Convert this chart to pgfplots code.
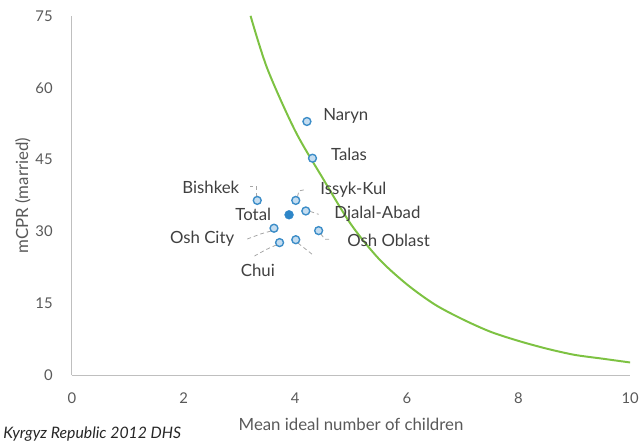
\documentclass[border=0pt]{standalone}
\usepackage{pgfplots}
\pgfplotsset{compat=1.18}
\usepackage{fontspec}
\setmainfont{Lato}

\definecolor{tickgray}{HTML}{595959}
\definecolor{labgray}{HTML}{404040}
\definecolor{axgray}{HTML}{BFBFBF}
\definecolor{curvegreen}{HTML}{7DC242}
\definecolor{ptedge}{HTML}{3C8DC8}
\definecolor{ptfill}{HTML}{C5DDF0}
\definecolor{totalblue}{HTML}{2E86C8}

\begin{document}
\begin{tikzpicture}
\begin{axis}[
    scale only axis,
    width=565pt, height=364pt,
    xmin=0, xmax=10, ymin=0, ymax=75,
    xtick={0,2,...,10}, ytick={0,15,...,75},
    axis lines=left,
    axis line style={axgray, line width=1pt, -},
    major tick length=0pt,
    tick label style={tickgray, font=\fontsize{15}{17}\selectfont},
    /pgf/number format/assume math mode=true,
    xticklabel style={yshift=-14pt},
    yticklabel style={xshift=-16pt},
    xlabel={Mean ideal number of children},
    ylabel={mCPR (married)},
    label style={tickgray, font=\fontsize{17}{19}\selectfont},
    xlabel style={yshift=-8pt},
    ylabel style={yshift=-2pt},
    clip=true,
]
% ideal-number curve
\addplot[curvegreen, line width=2pt, smooth] coordinates {
    (3.2,75) (3.5,64) (4.0,51) (4.5,41) (5.0,31.5) (5.5,24.3) (6.0,19.0)
    (6.5,14.8) (7.0,11.7) (7.5,9.1) (8.0,7.2) (8.5,5.6) (9.0,4.3) (9.5,3.5) (10.0,2.7)
};
% leader lines
\begin{scope}[gray!70, dashed, line width=0.8pt, dash pattern=on 4pt off 3pt]
\draw (3.31,37.3) -- (3.31,39.4) -- (3.19,39.4);
\draw (4.04,37.3) -- (4.07,38.5) -- (4.16,38.7);
\draw (4.27,34.2) -- (4.42,33.6);
\draw (3.56,30.1) -- (3.38,29.5) -- (3.13,28.4);
\draw (4.46,29.5) -- (4.53,28.4) -- (4.65,28.4);
\draw (3.66,27.2) -- (3.47,26.2) -- (3.27,24.9);
\draw (4.05,27.6) -- (4.30,25.3);
\end{scope}
% regions
\addplot[only marks, mark=*, mark size=4pt,
    mark options={draw=ptedge, fill=ptfill, line width=1.4pt}] coordinates {
    (4.21,52.96) (4.31,45.3) (3.32,36.5) (4.01,36.5) (4.19,34.3)
    (3.62,30.7) (4.42,30.2) (4.01,28.3) (3.72,27.7)
};
% total
\addplot[only marks, mark=*, mark size=4.5pt,
    mark options={draw=totalblue, fill=totalblue}] coordinates {(3.89,33.5)};
\begin{scope}[labgray, font=\fontsize{17}{19}\selectfont]
\node[anchor=west] at (4.44,54.2) {Naryn};
\node[anchor=west] at (4.58,46.0) {Talas};
\node[anchor=east] at (3.06,39.2) {Bishkek};
\node[anchor=west] at (4.39,38.7) {Issyk-Kul};
\node[anchor=east] at (3.63,33.6) {Total};
\node[anchor=west] at (4.64,33.6) {Djalal-Abad};
\node[anchor=east] at (2.97,28.4) {Osh City};
\node[anchor=west] at (4.87,28.2) {Osh Oblast};
\node at (3.33,21.9) {Chui};
\end{scope}
\end{axis}
\node[anchor=base west, font=\itshape\fontsize{16}{18}\selectfont, black!85]
    at (-73pt,-64pt) {Kyrgyz Republic 2012 DHS};
\useasboundingbox (-67pt,-66pt) rectangle (575pt,380pt);
\end{tikzpicture}
\end{document}
